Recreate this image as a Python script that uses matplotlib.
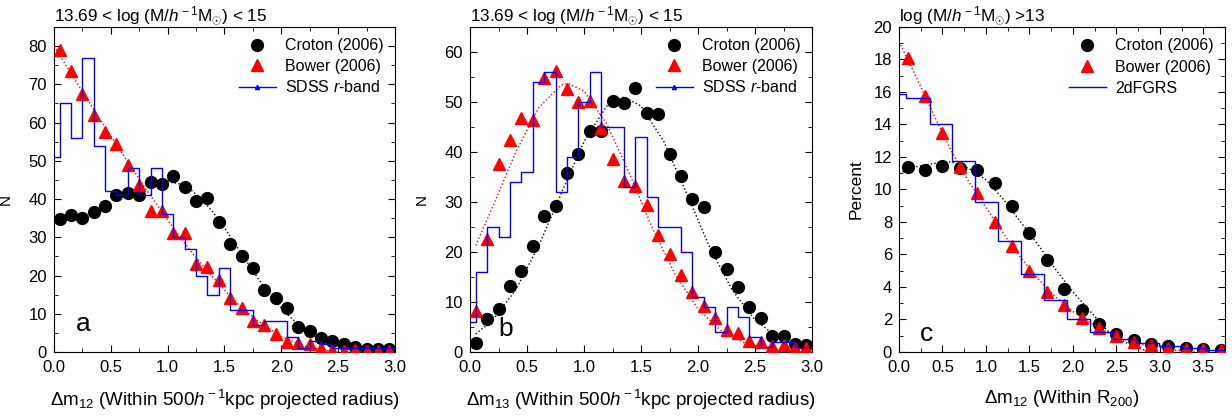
import matplotlib
matplotlib.use("Agg")
import matplotlib.pyplot as plt
from matplotlib.lines import Line2D
from matplotlib.ticker import MultipleLocator

plt.rcParams["font.family"] = ["Liberation Sans", "DejaVu Sans"]
plt.rcParams["mathtext.fontset"] = "custom"
plt.rcParams["mathtext.rm"] = "Liberation Sans"
plt.rcParams["mathtext.it"] = "Liberation Sans:italic"

# ---- panel a: delta m12 within 500 kpc/h ----
x_a = [0.05, 0.15, 0.25, 0.35, 0.45, 0.55, 0.65, 0.75, 0.85, 0.95,
       1.05, 1.15, 1.25, 1.35, 1.45, 1.55, 1.65, 1.75, 1.85, 1.95,
       2.05, 2.15, 2.25, 2.35, 2.45, 2.55, 2.65, 2.75, 2.85, 2.95]
croton_a = [34.7, 35.9, 35.0, 36.7, 38.3, 41.1, 41.5, 41.0, 44.4, 44.0,
            45.9, 43.1, 39.4, 40.4, 34.0, 28.2, 25.0, 22.0, 16.3, 14.0,
            11.6, 6.6, 5.4, 3.7, 3.0, 2.2, 1.4, 0.9, 0.9, 0.9]
bower_a = [79.0, 73.5, 67.5, 62.1, 57.5, 54.3, 49.0, 43.8, 37.0, 36.8,
           31.0, 31.0, 23.0, 22.3, 18.8, 14.0, 11.4, 8.2, 7.0, 4.7,
           2.7, 2.4, 2.1, 1.0, 0.5, 0.3, 0.5, 0.3, 0.3, 0.3]
sdss_x_a = [0.0, 0.1, 0.2, 0.3, 0.4, 0.5, 0.6, 0.7, 0.8, 0.9, 1.0,
            1.1, 1.2, 1.3, 1.4, 1.5, 1.6, 1.7, 1.8, 1.9, 2.0,
            2.1, 2.2, 2.3, 2.4, 2.5, 2.6, 2.7, 2.8, 2.9, 3.0]
sdss_a = [51, 65, 56, 77, 54, 42, 41, 48, 41, 48, 36,
          30, 27, 20, 15, 22, 11, 11, 7, 8, 8,
          4, 1, 3, 2, 1, 1, 1, 1, 1, 1]
croton_fit_x_a = [0.5, 0.7, 0.9, 1.0, 1.1, 1.2, 1.3, 1.4, 1.5, 1.6, 1.7, 1.8,
                  1.9, 2.0, 2.1, 2.2, 2.3, 2.4, 2.5, 2.6, 2.7, 2.8, 2.9]
croton_fit_a = [40.5, 42.5, 44.3, 44.5, 44.0, 42.5, 40.0, 36.5, 32.5, 28.0, 23.5, 19.0,
                15.0, 11.5, 8.5, 6.0, 4.0, 2.6, 1.6, 0.9, 0.5, 0.2, 0.1]
bower_fit_x_a = [0.0, 0.2, 0.4, 0.6, 0.8, 1.0, 1.2, 1.4, 1.6, 1.8, 2.0, 2.2, 2.4, 2.6]
bower_fit_a = [80, 70.5, 61, 52, 43, 34.5, 26.5, 19.5, 13, 8, 4, 1.5, 0.3, 0.0]

# ---- panel b: delta m13 within 500 kpc/h ----
x_b = x_a
croton_b = [1.7, 6.5, 8.6, 13.1, 16.1, 21.1, 27.1, 29.1, 35.8, 39.5,
            44.1, 44.1, 50.2, 49.7, 52.8, 47.7, 47.6, 39.5, 35.2, 30.6,
            29.0, 20.0, 16.5, 13.0, 8.9, 6.7, 3.1, 3.1, 1.5, 1.4]
bower_b = [8.1, 22.6, 37.6, 42.3, 46.7, 46.4, 54.8, 56.2, 52.6, 49.9,
           50.1, 44.8, 38.6, 34.2, 33.1, 29.4, 23.4, 19.6, 15.4, 11.9,
           9.1, 6.7, 4.4, 3.7, 2.1, 1.9, 1.1, 1.3, 0.8, 0.8]
sdss_x_b = sdss_x_a
sdss_b = [6, 16, 25, 23, 34, 36, 54, 56, 32, 39, 50,
          56, 45, 45, 33, 43, 31, 25, 25, 20, 11,
          9, 4, 9, 7, 3, 1, 2, 2, 1, 1]
croton_fit_x_b = [0.05, 0.2, 0.4, 0.6, 0.8, 1.0, 1.2, 1.35, 1.5, 1.7, 1.9,
                  2.1, 2.3, 2.5, 2.7, 2.95]
croton_fit_b = [3.6, 6.4, 12.4, 21.1, 31.7, 42.1, 49.2, 51.0, 49.2, 42.1, 31.7,
                21.1, 12.4, 6.4, 2.9, 0.9]
bower_fit_x_b = [0.05, 0.2, 0.4, 0.6, 0.8, 0.86, 1.0, 1.2, 1.4, 1.6, 1.8,
                 2.0, 2.2, 2.4, 2.6, 2.8, 2.95]
bower_fit_b = [21.3, 29.1, 39.9, 48.8, 53.4, 53.7, 52.2, 45.6, 35.6, 24.8, 15.5,
               8.6, 4.3, 1.9, 0.76, 0.27, 0.1]

# ---- panel c: delta m12 within R200 ----
x_c = [0.1, 0.3, 0.5, 0.7, 0.9, 1.1, 1.3, 1.5, 1.7, 1.9,
       2.1, 2.3, 2.5, 2.7, 2.9, 3.1, 3.3, 3.5, 3.7]
croton_c = [11.4, 11.2, 11.45, 11.3, 11.2, 10.4, 8.96, 7.34, 5.64, 3.88,
            2.6, 1.74, 1.09, 0.72, 0.47, 0.35, 0.23, 0.18, 0.14]
bower_c = [18.1, 15.75, 13.5, 11.4, 9.8, 8.0, 6.5, 4.96, 3.7, 2.87,
           2.1, 1.5, 0.98, 0.62, 0.41, 0.27, 0.2, 0.16, 0.14]
twodf_edges = [0.0, 0.077, 0.354, 0.612, 0.873, 1.142, 1.408, 1.669, 1.938,
               2.2, 2.465, 2.73, 2.988, 3.254, 3.515, 3.75]
twodf_c = [15.85, 15.65, 14.05, 11.75, 9.25, 6.85, 4.8, 3.2, 2.0,
           1.25, 0.8, 0.55, 0.35, 0.22, 0.1]
croton_fit_x_c = [0.0, 0.2, 0.4, 0.6, 0.8, 1.0, 1.2, 1.4, 1.6, 1.8,
                  2.0, 2.2, 2.4, 2.6, 2.8, 2.95]
croton_fit_c = [11.0, 11.4, 11.6, 11.7, 11.3, 10.6, 9.4, 8.0, 6.6, 5.1,
                3.7, 2.5, 1.3, 0.6, 0.15, 0.0]
bower_fit_x_c = [0.0, 0.2, 0.4, 0.6, 0.8, 1.0, 1.2, 1.4, 1.6, 1.8,
                 2.0, 2.2, 2.4, 2.6, 2.8, 3.0, 3.2, 3.4]
bower_fit_c = [19.1, 16.9, 14.6, 12.4, 10.5, 8.9, 7.3, 5.8, 4.5, 3.4,
               2.5, 1.8, 1.2, 0.75, 0.45, 0.25, 0.1, 0.05]

TITLE_AB = r"13.69 < log (M/$h^{\rm -1}$M$_{\odot}$) < 15"
TITLE_C = r"log (M/$h^{\rm -1}$M$_{\odot}$) >13"


def style_axes(ax, xmax, xmaj, xmin, ymax, ymaj, ymin):
    ax.set_xlim(0, xmax)
    ax.set_ylim(0, ymax)
    ax.xaxis.set_major_locator(MultipleLocator(xmaj))
    ax.xaxis.set_minor_locator(MultipleLocator(xmin))
    ax.yaxis.set_major_locator(MultipleLocator(ymaj))
    ax.yaxis.set_minor_locator(MultipleLocator(ymin))
    ax.tick_params(which="both", direction="in", top=True, right=True, labelsize=12)
    ax.tick_params(which="major", length=5)
    ax.tick_params(which="minor", length=3)
    ax.tick_params(axis="x", pad=6)
    ax.tick_params(axis="y", pad=5)


def draw_points(ax, x, croton, bower, cfx, cf, bfx, bf):
    ax.plot(cfx, cf, color="black", ls=":", lw=1.0, zorder=2)
    ax.plot(x, croton, "o", color="black", ms=8.5, ls="none", zorder=3)
    ax.plot(bfx, bf, color="red", ls=":", lw=1.0, zorder=4)
    ax.plot(x, bower, "^", color="red", ms=9, ls="none", zorder=5)


fig = plt.figure(figsize=(12.32, 4.17), dpi=100)
ax_a = fig.add_axes([0.0438, 0.1559, 0.2768, 0.7794])
ax_b = fig.add_axes([0.3815, 0.1559, 0.2776, 0.7794])
ax_c = fig.add_axes([0.7297, 0.1559, 0.2646, 0.7794])

handles_ab = [Line2D([], [], marker="o", color="black", ls="none", ms=8.5),
              Line2D([], [], marker="^", color="red", ls="none", ms=9),
              Line2D([], [], marker="^", color="blue", lw=1.0, ms=3)]
labels_ab = ["Croton (2006)", "Bower (2006)", r"SDSS $r$-band"]

# panel a
draw_points(ax_a, x_a, croton_a, bower_a, croton_fit_x_a, croton_fit_a, bower_fit_x_a, bower_fit_a)
ax_a.step(sdss_x_a, sdss_a, where="mid", color="blue", lw=1.0, zorder=6)
style_axes(ax_a, 3.0, 0.5, 0.25, 85, 10, 5)
ax_a.set_xlabel(r"$\Delta$m$_{12}$ (Within 500$h^{\rm -1}$kpc projected radius)", fontsize=13.5, labelpad=9)
ax_a.set_ylabel("N", fontsize=11)
ax_a.yaxis.set_label_coords(-0.12, 0.47)
ax_a.set_title(TITLE_AB, loc="left", fontsize=12.3, pad=4)
ax_a.text(0.085, 0.085, "a", transform=ax_a.transAxes, fontsize=19, ha="center", va="center")
ax_a.legend(handles_ab, labels_ab, loc="upper right", frameon=False, fontsize=11.5,
            handlelength=2.3, labelspacing=0.35, borderaxespad=0.3, handletextpad=0.6)

# panel b
draw_points(ax_b, x_b, croton_b, bower_b, croton_fit_x_b, croton_fit_b, bower_fit_x_b, bower_fit_b)
ax_b.step(sdss_x_b, sdss_b, where="mid", color="blue", lw=1.0, zorder=6)
style_axes(ax_b, 3.0, 0.5, 0.25, 65, 10, 5)
ax_b.set_xlabel(r"$\Delta$m$_{13}$ (Within 500$h^{\rm -1}$kpc projected radius)", fontsize=13.5, labelpad=9)
ax_b.set_ylabel("N", fontsize=11)
ax_b.yaxis.set_label_coords(-0.12, 0.47)
ax_b.set_title(TITLE_AB, loc="left", fontsize=12.3, pad=4)
ax_b.text(0.105, 0.07, "b", transform=ax_b.transAxes, fontsize=19, ha="center", va="center")
ax_b.legend(handles_ab, labels_ab, loc="upper right", frameon=False, fontsize=11.5,
            handlelength=2.3, labelspacing=0.35, borderaxespad=0.3, handletextpad=0.6)

# panel c
draw_points(ax_c, x_c, croton_c, bower_c, croton_fit_x_c, croton_fit_c, bower_fit_x_c, bower_fit_c)
ax_c.stairs(twodf_c, twodf_edges, baseline=None, color="blue", lw=1.0, zorder=6)
style_axes(ax_c, 3.75, 0.5, 0.25, 20, 2, 1)
ax_c.set_xlabel(r"$\Delta$m$_{12}$ (Within R$_{200}$)", fontsize=13.5, labelpad=9)
ax_c.set_ylabel("Percent", fontsize=12.5)
ax_c.yaxis.set_label_coords(-0.11, 0.5)
ax_c.set_title(TITLE_C, loc="left", fontsize=12.3, pad=4)
ax_c.text(0.083, 0.055, "c", transform=ax_c.transAxes, fontsize=19, ha="center", va="center")
handles_c = [Line2D([], [], marker="o", color="black", ls="none", ms=8.5),
             Line2D([], [], marker="^", color="red", ls="none", ms=9),
             Line2D([], [], color="blue", lw=1.0)]
ax_c.legend(handles_c, ["Croton (2006)", "Bower (2006)", "2dFGRS"], loc="upper right",
            frameon=False, fontsize=11.5, handlelength=2.3, labelspacing=0.4,
            borderaxespad=0.3, handletextpad=0.6)

fig.savefig("out.png", dpi=100)
